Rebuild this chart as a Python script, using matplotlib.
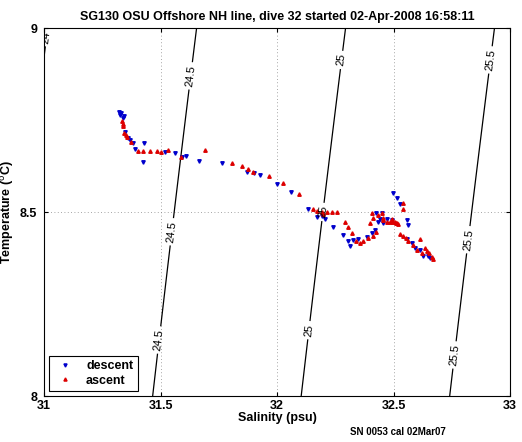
import numpy as np
import matplotlib
matplotlib.use("Agg")
import matplotlib.pyplot as plt

plt.rcParams['font.family'] = ['Liberation Sans', 'DejaVu Sans']

title = "SG130 OSU Offshore NH line, dive 32 started 02-Apr-2008 16:58:11"
xlabel = "Salinity (psu)"
ylabel = "Temperature ($^{\\rm o}$C)"
footnote = "SN 0053 cal 02Mar07"

xticks = [31, 31.5, 32, 32.5, 33]
xticklabels = ["31", "31.5", "32", "32.5", "33"]
yticks = [8, 8.5, 9]
yticklabels = ["8", "8.5", "9"]
sigma_levels = [24, 24.5, 25, 25.5]

descent_S = [31.322, 31.330, 31.343, 31.339, 31.326, 31.348, 31.361, 31.369, 31.382, 31.429,
             31.391, 31.425, 31.519, 31.562, 31.592, 31.609, 31.665, 31.764, 31.871, 31.901,
             31.927, 32.000, 32.060, 32.133, 32.172, 32.193, 32.206, 32.240, 32.283, 32.305,
             32.313, 32.326, 32.348, 32.386, 32.408, 32.421, 32.425, 32.433, 32.442, 32.472,
             32.498, 32.515, 32.528, 32.451, 32.455, 32.494, 32.558, 32.562, 32.558, 32.579,
             32.592, 32.614, 32.627, 32.648, 32.657]
descent_T = [8.772, 8.769, 8.761, 8.755, 8.764, 8.717, 8.701, 8.696, 8.688, 8.688,
             8.671, 8.636, 8.663, 8.660, 8.649, 8.652, 8.639, 8.633, 8.609, 8.606,
             8.601, 8.576, 8.554, 8.508, 8.486, 8.489, 8.481, 8.459, 8.438, 8.421,
             8.408, 8.424, 8.427, 8.432, 8.443, 8.451, 8.497, 8.473, 8.481, 8.481,
             8.552, 8.538, 8.522, 8.497, 8.470, 8.478, 8.478, 8.465, 8.427, 8.416,
             8.402, 8.397, 8.380, 8.380, 8.375]

ascent_S = [31.335, 31.339, 31.339, 31.343, 31.352, 31.356, 31.373, 31.403, 31.425, 31.455,
            31.485, 31.502, 31.532, 31.588, 31.691, 31.807, 31.850, 31.876, 31.897, 31.966,
            32.026, 32.094, 32.155, 32.172, 32.193, 32.197, 32.215, 32.236, 32.258, 32.292,
            32.305, 32.322, 32.339, 32.356, 32.369, 32.391, 32.412, 32.425, 32.399, 32.412,
            32.408, 32.433, 32.455, 32.451, 32.485, 32.494, 32.506, 32.515, 32.541, 32.541,
            32.455, 32.472, 32.498, 32.511, 32.519, 32.528, 32.541, 32.554, 32.562, 32.584,
            32.601, 32.614, 32.622, 32.635, 32.644, 32.652, 32.665, 32.670]
ascent_T = [8.747, 8.739, 8.734, 8.715, 8.709, 8.704, 8.690, 8.666, 8.666, 8.666,
            8.666, 8.663, 8.668, 8.649, 8.668, 8.633, 8.625, 8.617, 8.609, 8.598,
            8.579, 8.549, 8.508, 8.503, 8.500, 8.495, 8.500, 8.500, 8.500, 8.473,
            8.459, 8.443, 8.421, 8.416, 8.421, 8.429, 8.435, 8.446, 8.470, 8.484,
            8.497, 8.492, 8.484, 8.497, 8.473, 8.481, 8.473, 8.470, 8.524, 8.508,
            8.478, 8.473, 8.473, 8.470, 8.467, 8.440, 8.435, 8.429, 8.421, 8.410,
            8.397, 8.427, 8.389, 8.402, 8.394, 8.389, 8.378, 8.372]

# approximate spots where the contour labels sit
label_spots = [(31.01, 8.975),
               (31.63, 8.87), (31.553, 8.446), (31.498, 8.152),
               (32.28, 8.913), (32.2, 8.5), (32.136, 8.179),
               (32.92, 8.913), (32.83, 8.424), (32.77, 8.111)]


def sigma_t(S, T):
    rw = (999.842594 + 6.793952e-2 * T - 9.095290e-3 * T**2 + 1.001685e-4 * T**3
          - 1.120083e-6 * T**4 + 6.536332e-9 * T**5)
    A = 0.824493 - 4.0899e-3 * T + 7.6438e-5 * T**2 - 8.2467e-7 * T**3 + 5.3875e-9 * T**4
    B = -5.72466e-3 + 1.0227e-4 * T - 1.6546e-6 * T**2
    C = 4.8314e-4
    return rw + A * S + B * S**1.5 + C * S**2 - 1000.0


fig = plt.figure(figsize=(5.22, 4.42), dpi=100)
ax = fig.add_axes([0.0843, 0.104, 0.893, 0.8326])

Sg, Tg = np.meshgrid(np.linspace(30.95, 33.05, 400), np.linspace(7.98, 9.02, 300))
cs = ax.contour(Sg, Tg, sigma_t(Sg, Tg), levels=sigma_levels, colors='black', linewidths=0.9)
ax.set_xlim(31, 33)
ax.set_ylim(8, 9)
ax.clabel(cs, fmt=lambda v: f"{v:g}", fontsize=8, inline=True, inline_spacing=3,
          manual=label_spots)

ax.plot(descent_S, descent_T, linestyle='none', marker='v', color='#0000cc',
        markersize=2.5, label='descent')
ax.plot(ascent_S, ascent_T, linestyle='none', marker='^', color='#dd0000',
        markersize=2.5, label='ascent')

ax.set_xticks(xticks)
ax.set_xticklabels(xticklabels, fontweight='bold', fontsize=9)
ax.set_yticks(yticks)
ax.set_yticklabels(yticklabels, fontweight='bold', fontsize=9)
ax.tick_params(direction='in', length=3, top=True, right=True)
ax.tick_params(axis='x', pad=3)
ax.tick_params(axis='y', pad=5)
ax.grid(True, linestyle=(0, (1, 3)), color='#888888', linewidth=0.6)
for s in ax.spines.values():
    s.set_linewidth(0.8)

ax.set_xlabel(xlabel, fontweight='bold', fontsize=9, labelpad=0)
ax.set_ylabel(ylabel, fontweight='bold', fontsize=9, labelpad=3)
ax.set_title(title, fontweight='bold', fontsize=9, pad=6)

leg = ax.legend(loc='lower left', prop={'weight': 'bold', 'size': 9}, fancybox=False,
                edgecolor='black', framealpha=1, handlelength=1.8, borderpad=0.35,
                labelspacing=0.2, bbox_to_anchor=(0.011, 0.014), borderaxespad=0,
                markerscale=0.9)
leg.get_frame().set_linewidth(0.8)

fig.text(0.67, 0.015, footnote, fontweight='bold', fontsize=7)

fig.savefig("out.png", dpi=100)
